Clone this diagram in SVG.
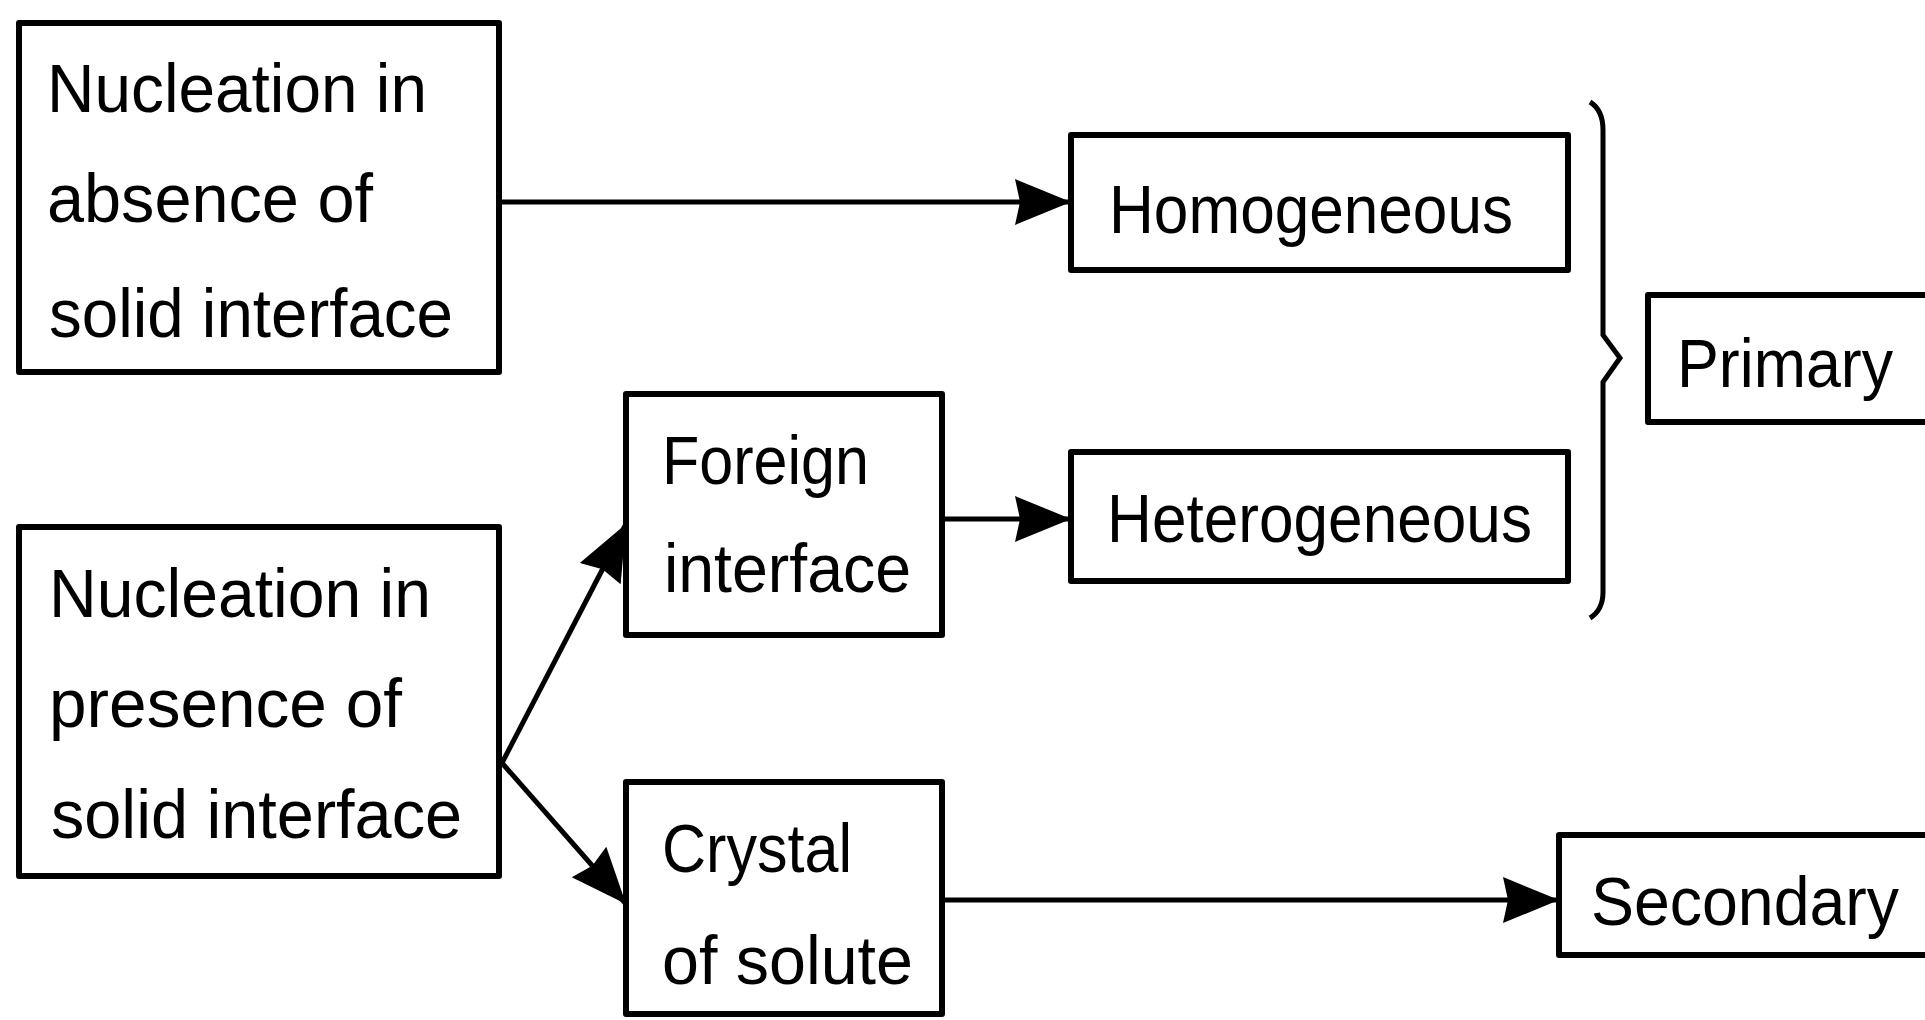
<svg xmlns="http://www.w3.org/2000/svg" width="1925" height="1020" viewBox="0 0 1925 1020">
<style>
.box{fill:#fff;stroke:#000;stroke-width:6;stroke-linejoin:round}
.lbl{font-family:"Liberation Sans",Arial,sans-serif;font-size:69px;fill:#000}
.con{fill:none;stroke:#000;stroke-width:5}
</style>
<defs>
<marker id="ah" markerUnits="userSpaceOnUse" markerWidth="58" markerHeight="48" refX="56" refY="24" orient="auto">
<path d="M0,1 L56,24 L0,47 L5,24 z" fill="#000"/>
</marker>
</defs>
<rect width="1925" height="1020" fill="#fff"/>
<g id="connectors">
<line class="con" x1="500" y1="202" x2="1071" y2="202" marker-end="url(#ah)"/>
<line class="con" x1="942" y1="519" x2="1071" y2="519" marker-end="url(#ah)"/>
<line class="con" x1="942" y1="900" x2="1559" y2="900" marker-end="url(#ah)"/>
<line class="con" x1="502" y1="763" x2="626" y2="524" marker-end="url(#ah)"/>
<line class="con" x1="502" y1="763" x2="626" y2="904" marker-end="url(#ah)"/>
<path class="con" d="M1590,102 Q1603,110 1603,130 L1603,335 L1620,358 L1603,382 L1603,592 Q1603,610 1590,618"/>
</g>
<g id="absence">
<rect class="box" x="19" y="23" width="480" height="349"/>
<text class="lbl" x="47" y="112" textLength="380" lengthAdjust="spacingAndGlyphs">Nucleation in</text>
<text class="lbl" x="47" y="222" textLength="326" lengthAdjust="spacingAndGlyphs">absence of</text>
<text class="lbl" x="49" y="337" textLength="404" lengthAdjust="spacingAndGlyphs">solid interface</text>
</g>
<g id="presence">
<rect class="box" x="19" y="527" width="480" height="349"/>
<text class="lbl" x="49" y="617" textLength="382" lengthAdjust="spacingAndGlyphs">Nucleation in</text>
<text class="lbl" x="49" y="727" textLength="353" lengthAdjust="spacingAndGlyphs">presence of</text>
<text class="lbl" x="51" y="838" textLength="411" lengthAdjust="spacingAndGlyphs">solid interface</text>
</g>
<g id="foreign">
<rect class="box" x="626" y="394" width="316" height="241"/>
<text class="lbl" x="662" y="484" textLength="207" lengthAdjust="spacingAndGlyphs">Foreign</text>
<text class="lbl" x="664" y="592" textLength="247" lengthAdjust="spacingAndGlyphs">interface</text>
</g>
<g id="crystal">
<rect class="box" x="626" y="782" width="316" height="232"/>
<text class="lbl" x="662" y="872" textLength="190" lengthAdjust="spacingAndGlyphs">Crystal</text>
<text class="lbl" x="662" y="984" textLength="251" lengthAdjust="spacingAndGlyphs">of solute</text>
</g>
<g id="homogeneous">
<rect class="box" x="1071" y="135" width="497" height="135"/>
<text class="lbl" x="1109" y="233" textLength="404" lengthAdjust="spacingAndGlyphs">Homogeneous</text>
</g>
<g id="heterogeneous">
<rect class="box" x="1071" y="452" width="497" height="129"/>
<text class="lbl" x="1107" y="542" textLength="425" lengthAdjust="spacingAndGlyphs">Heterogeneous</text>
</g>
<g id="primary">
<rect class="box" x="1648" y="295" width="300" height="127"/>
<text class="lbl" x="1677" y="387" textLength="216" lengthAdjust="spacingAndGlyphs">Primary</text>
</g>
<g id="secondary">
<rect class="box" x="1559" y="835" width="400" height="120"/>
<text class="lbl" x="1591" y="925" textLength="308" lengthAdjust="spacingAndGlyphs">Secondary</text>
</g>
</svg>
